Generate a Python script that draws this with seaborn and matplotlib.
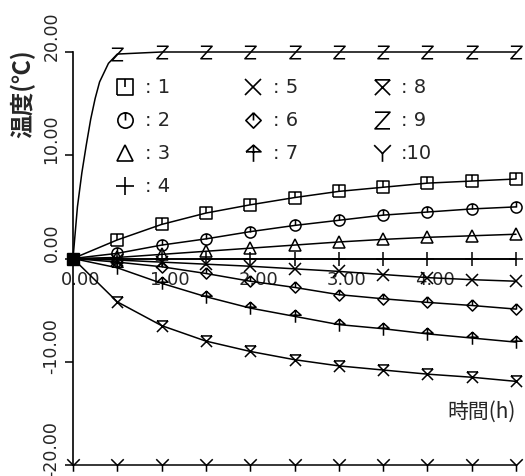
import numpy as np
import pandas as pd
import seaborn as sns
import matplotlib
matplotlib.use("Agg")
import matplotlib.pyplot as plt
from matplotlib.path import Path
from matplotlib.lines import Line2D
from matplotlib.transforms import ScaledTranslation

# time (h), a marker every 0.5 h
t = [0.0, 0.5, 1.0, 1.5, 2.0, 2.5, 3.0, 3.5, 4.0, 4.5, 5.0]

s1 = [0, 1.8, 3.3, 4.4, 5.2, 5.9, 6.5, 6.9, 7.3, 7.5, 7.7]
s2 = [0, 0.5, 1.3, 1.9, 2.6, 3.2, 3.7, 4.2, 4.5, 4.8, 5.0]
s3 = [0, 0.1, 0.4, 0.7, 1.0, 1.3, 1.6, 1.85, 2.05, 2.2, 2.35]
s4 = [0, 0, 0, 0, 0, 0, 0, 0, 0, 0, 0]
s5 = [0, -0.15, -0.35, -0.55, -0.75, -1.0, -1.25, -1.55, -1.85, -2.05, -2.2]
s6 = [0, -0.35, -0.8, -1.45, -2.2, -2.8, -3.5, -3.9, -4.25, -4.55, -4.9]
s7 = [0, -0.9, -2.4, -3.7, -4.8, -5.6, -6.4, -6.8, -7.3, -7.7, -8.1]
s8 = [0, -4.2, -6.5, -8.0, -9.0, -9.8, -10.4, -10.8, -11.2, -11.5, -11.9]
# series 9 rises fast, so it is read at finer steps near the start
t9 = [0.0, 0.05, 0.1, 0.15, 0.2, 0.25, 0.3, 0.4, 0.5, 1.0, 1.5, 2.0, 2.5, 3.0, 3.5, 4.0, 4.5, 5.0]
s9 = [0, 5.0, 8.3, 11.0, 13.5, 15.5, 17.1, 18.9, 19.8, 20, 20, 20, 20, 20, 20, 20, 20, 20]
s10 = [-20, -20, -20, -20, -20, -20, -20, -20, -20, -20, -20]

names = ["1", "2", "3", "4", "5", "6", "7", "8", "9", "10"]
xticks = [0, 1, 2, 3, 4]
yticks = [-20, -10, 0, 10, 20]

M, L = Path.MOVETO, Path.LINETO

def open_path(*strokes):
    verts, codes = [], []
    for s in strokes:
        verts += s
        codes += [M] + [L] * (len(s) - 1)
    return Path(verts, codes)

tick = [(0, 1), (0, 0)]
sq_tick = open_path([(-1, -1), (1, -1), (1, 1), (-1, 1), (-1, -1)], tick)
circ = Path.unit_circle()
circ_tick = Path.make_compound_path(circ, Path(tick, [M, L]))
dia_tick = open_path([(0, 1), (1, 0), (0, -1), (-1, 0), (0, 1)], tick)
arrow = open_path([(-0.9, 0.2), (0, 1), (0.9, 0.2), (-0.9, 0.2)], [(0, 1), (0, -1)])
xbar = open_path([(-1, 1), (1, 1)], [(-1, 1), (1, -1)], [(1, 1), (-1, -1)])
zmark = open_path([(-0.9, 1), (0.9, 1), (-0.9, -1), (0.9, -1)])
ymark = open_path([(-1, 1), (0, 0), (1, 1)], [(0, 0), (0, -1)])

markers = [sq_tick, circ_tick, "^", "+", "x", dia_tick, arrow, xbar, zmark, ymark]
sizes = [8, 8, 8, 10, 8, 8, 9, 8, 9, 9]

sns.set_style("white")
plt.rcParams["font.family"] = ["DejaVu Sans", "Noto Sans CJK JP"]
plt.rcParams["axes.unicode_minus"] = False

fig = plt.figure(figsize=(5.25, 4.76), dpi=100)
ax = fig.add_axes([73 / 525, 11 / 476, 443 / 525, 413 / 476])

series = [s1, s2, s3, s4, s5, s6, s7, s8, s9, s10]
for i, ys in enumerate(series):
    xs = t9 if i == 8 else t
    every = list(range(8, len(t9))) if i == 8 else list(range(1, len(t)))
    if i == 9:
        every = list(range(len(t)))
    sns.lineplot(x=xs, y=ys, ax=ax, color="black", lw=1.1, marker=markers[i],
                 markevery=every, ms=sizes[i], mfc="none", mec="black", mew=1.1,
                 clip_on=False, zorder=3)

# all curves start from the same point
ax.plot(t[0], s1[0], marker="s", ms=8, color="black", clip_on=False, zorder=4)

ax.set_xlim(0, 5)
ax.set_ylim(-20, 20)
ax.spines["top"].set_visible(False)
ax.spines["right"].set_visible(False)
ax.spines["bottom"].set_position(("data", 0))
ax.spines["bottom"].set_bounds(0, 5)
for sp in ax.spines.values():
    sp.set_color("black")
    sp.set_linewidth(1.2)

ax.set_xticks(xticks)
ax.set_xticklabels([f"{v:.2f}" for v in xticks], fontsize=13)
ax.set_yticks(yticks)
ax.set_yticklabels([f"{v:.2f}" for v in yticks], fontsize=12.5, rotation=90, va="center")
ax.tick_params(axis="x", length=0, pad=9)
ax.tick_params(axis="y", length=6, width=1.1, color="black", direction="out", pad=3, left=True)
for lab in ax.get_xticklabels():
    lab.set_transform(lab.get_transform() + ScaledTranslation(0.08, 0, fig.dpi_scale_trans))
for lab in ax.get_yticklabels():
    lab.set_transform(lab.get_transform() + ScaledTranslation(0, 0.16, fig.dpi_scale_trans))

ax.set_ylabel("温度(℃)", fontsize=17, fontweight="bold",
              family=["Noto Sans CJK JP", "DejaVu Sans"])
ax.yaxis.label.set_va("center")
ax.yaxis.set_label_coords(-0.113, 0.9)
ax.set_xlabel("時間(h)", fontsize=15, family=["Noto Sans CJK JP", "DejaVu Sans"],
              ha="right", va="center")
ax.xaxis.set_label_coords(1.0, 0.128)

handles = [Line2D([], [], ls="none", marker=markers[i], ms=sizes[i] + 3, mfc="none",
                  mec="black", mew=1.2) for i in range(10)]
labels = [(":" if n == "10" else ": ") + n for n in names]
ax.legend(handles, labels, ncol=3, loc="upper left", bbox_to_anchor=(0.1, 0.936),
          frameon=False, fontsize=14, handlelength=0.8, handletextpad=0.6,
          columnspacing=3.9, labelspacing=0.72, borderpad=0, borderaxespad=0)

fig.savefig("out.png", dpi=100)
